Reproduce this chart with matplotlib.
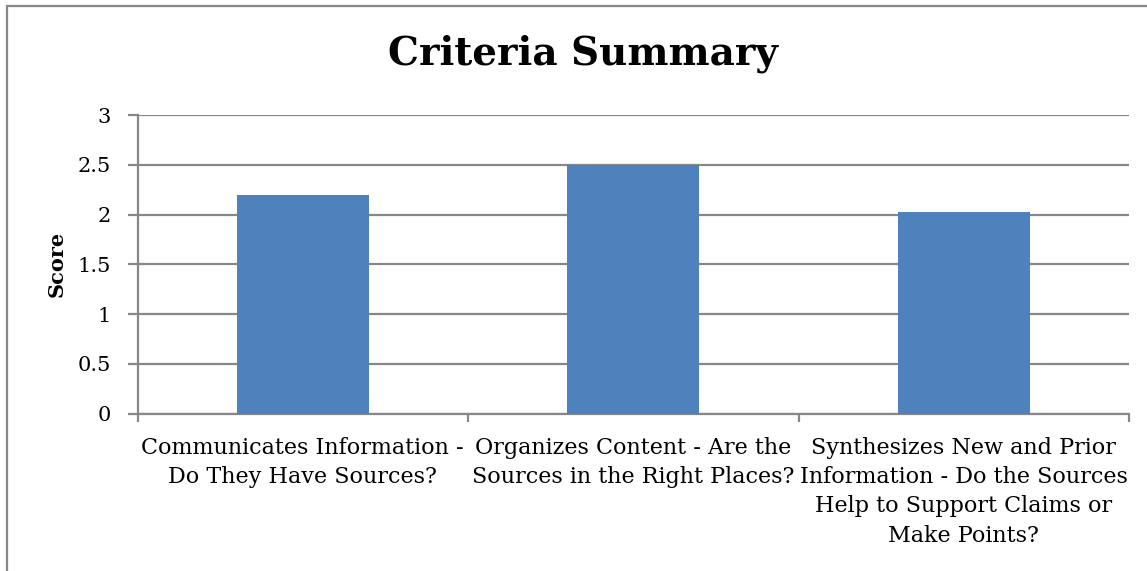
import matplotlib
matplotlib.use("Agg")
import matplotlib.pyplot as plt
from matplotlib.patches import Rectangle
import numpy as np

categories = [
    "Communicates Information -\nDo They Have Sources?",
    "Organizes Content - Are the\nSources in the Right Places?",
    "Synthesizes New and Prior\nInformation - Do the Sources\nHelp to Support Claims or\nMake Points?",
]
scores = [2.2, 2.5, 2.03]
y_ticks = [0, 0.5, 1, 1.5, 2, 2.5, 3]
y_tick_labels = ["0", "0.5", "1", "1.5", "2", "2.5", "3"]

GRAY = "#878787"
BLUE = "#4F81BD"
FONT = "DejaVu Serif"

plt.rcParams["font.family"] = FONT

fig = plt.figure(figsize=(11.47, 5.71), dpi=100)
ax = fig.add_axes([137.5 / 1147, 1 - 413.5 / 571, (1129 - 137.5) / 1147, (413.5 - 115) / 571])

x = np.arange(len(categories))
ax.bar(x, scores, width=0.4, color=BLUE, zorder=3)

ax.set_xlim(-0.5, len(categories) - 0.5)
ax.set_ylim(0, 3)
ax.set_yticks(y_ticks, y_tick_labels)
ax.yaxis.grid(True, color=GRAY, linewidth=1.6, zorder=0)
ax.set_axisbelow(True)

# labels sit between boundary ticks like in Excel
ax.set_xticks(x, categories)
ax.set_xticks(np.arange(len(categories) + 1) - 0.5, minor=True)
ax.tick_params(axis="x", which="major", length=0, pad=17, labelsize=16)
ax.tick_params(axis="x", which="minor", length=6, width=1.6, color=GRAY, direction="out")
ax.tick_params(axis="y", length=7, width=1.6, color=GRAY, labelsize=15, pad=12)
for lab in ax.get_xticklabels():
    lab.set_linespacing(1.42)

for side in ("top", "right"):
    ax.spines[side].set_visible(False)
for side in ("left", "bottom"):
    ax.spines[side].set_color(GRAY)
    ax.spines[side].set_linewidth(1.6)

ax.set_ylabel("Score", fontsize=15, fontweight="bold", labelpad=8)
fig.text(582.5 / 1147, 1 - 54 / 571, "Criteria Summary", ha="center", va="center",
         fontsize=28, fontweight="bold")

# chart frame, only left and top edges fall inside the image
fig.patches.append(Rectangle((7 / 1147, -0.2), 1.2, 1.2 - 6 / 571, transform=fig.transFigure,
                             fill=False, edgecolor=GRAY, linewidth=1.6))

fig.savefig("out.png", dpi=100)
